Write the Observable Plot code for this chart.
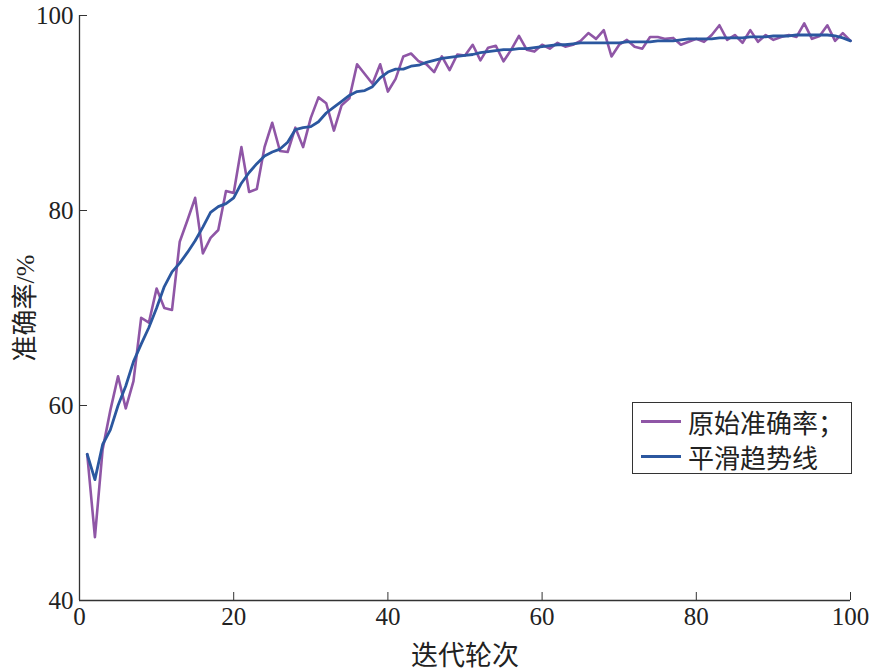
<!DOCTYPE html>
<html><head><meta charset="utf-8">
<script src="https://cdn.jsdelivr.net/npm/d3@7"></script>
<script src="https://cdn.jsdelivr.net/npm/@observablehq/plot@0.6"></script>
<style>
body{margin:0;background:#fff;}
#wrap{position:relative;width:874px;height:672px;}
#legend{position:absolute;left:632px;top:402px;width:218px;height:70px;border:1.5px solid #333;background:#fff;font-family:"Liberation Serif","Noto Sans CJK SC",serif;font-size:26px;color:#222;}
.row{position:absolute;left:8px;height:30px;display:flex;align-items:center;}
.sw{width:40px;height:3px;margin-right:7px;}
</style></head>
<body><div id="wrap"><div id="legend"></div></div>
<script>
const epochs = d3.range(1, 101);
const rawAcc = [55,46.5,55.5,59.5,63,59.7,62.5,69,68.5,72,
70,69.8,76.8,79,81.3,75.6,77.2,78,82,81.8,
86.5,81.9,82.2,86.5,89,86.1,86,88.5,86.5,89.5,
91.6,91,88.2,90.8,91.5,95,94,93,95,92.2,
93.5,95.8,96.1,95.3,95,94.2,95.8,94.4,96,95.9,
97,95.4,96.7,96.9,95.3,96.5,97.9,96.5,96.3,97,
96.6,97.2,96.8,97,97.4,98.2,97.6,98.5,95.8,97,
97.5,96.8,96.6,97.8,97.8,97.6,97.7,97,97.3,97.6,
97.3,98,99,97.5,98,97.2,98.5,97.3,98,97.5,
97.8,98,97.8,99.2,97.6,97.9,99,97.4,98.2,97.4];
const smoothAcc = [55,52.4,56,57.5,60,62,64.5,66.3,68,70,
72.2,73.7,74.6,75.7,76.9,78.3,79.8,80.4,80.7,81.3,
82.8,83.9,84.8,85.6,86.0,86.3,87.0,88.3,88.5,88.6,
89.1,90.0,90.6,91.2,91.8,92.2,92.3,92.7,93.6,94.2,
94.5,94.5,94.8,94.9,95.2,95.4,95.6,95.7,95.8,95.9,
96.0,96.2,96.3,96.4,96.5,96.5,96.6,96.6,96.7,96.8,
96.9,97.0,97.0,97.1,97.2,97.2,97.2,97.2,97.2,97.2,
97.3,97.3,97.3,97.3,97.4,97.4,97.4,97.5,97.6,97.6,
97.6,97.6,97.7,97.7,97.7,97.7,97.8,97.8,97.8,97.9,
97.9,97.9,98.0,98.0,98.0,98.0,98.0,97.9,97.7,97.4];
const xTicks = [0,20,40,60,80,100];
const yTicks = [40,60,80,100];
const seriesNames = ["原始准确率；","平滑趋势线"];
const colors = ["#8f56a6","#2b579f"];
const xLabel = "迭代轮次";
const yLabel = "准确率/%";

const rawData = epochs.map((e,i)=>({x:e,y:rawAcc[i]}));
const smoothData = epochs.map((e,i)=>({x:e,y:smoothAcc[i]}));

const font = '"Liberation Serif","Noto Sans CJK SC",serif';
const chart = Plot.plot({
  width: 874, height: 672,
  marginLeft: 79, marginRight: 24, marginTop: 15, marginBottom: 72,
  style: {fontFamily: font, fontSize: "25px", color: "#222", background: "#fff", overflow: "visible"},
  x: {domain: [0,100]},
  y: {domain: [40,100]},
  marks: [
    Plot.ruleY([40], {stroke: "#333", strokeWidth: 1.3}),
    Plot.ruleX([0], {stroke: "#333", strokeWidth: 1.3}),
    Plot.axisX({ticks: xTicks, tickSize: 0, tickPadding: 7, tickFormat: d=>String(d), label: null, fontSize: 25}),
    Plot.axisX({ticks: [], tickSize: 0, label: xLabel, labelAnchor: "center", labelArrow: "none", labelOffset: 64, fontSize: 27}),
    Plot.axisX({ticks: xTicks, tickSize: -8, text: null, label: null, stroke: "#333"}),
    Plot.axisY({ticks: yTicks, tickSize: 0, tickPadding: 6, tickFormat: d=>String(d), label: null, fontSize: 25}),
    Plot.axisY({ticks: [], tickSize: 0, label: yLabel, labelAnchor: "center", labelArrow: "none", labelOffset: 64, fontSize: 26}),
    Plot.axisY({ticks: yTicks, tickSize: -8, text: null, label: null, stroke: "#333"}),
    Plot.line(rawData, {x: "x", y: "y", stroke: colors[0], strokeWidth: 2.6}),
    Plot.line(smoothData, {x: "x", y: "y", stroke: colors[1], strokeWidth: 2.8})
  ]
});
document.getElementById("wrap").prepend(chart);
const leg = document.getElementById("legend");
seriesNames.forEach((n,i)=>{
  const r = document.createElement("div");
  r.className = "row";
  r.style.top = (3 + i*35) + "px";
  r.innerHTML = `<div class="sw" style="background:${colors[i]}"></div><span>${n}</span>`;
  leg.appendChild(r);
});
</script></body></html>
